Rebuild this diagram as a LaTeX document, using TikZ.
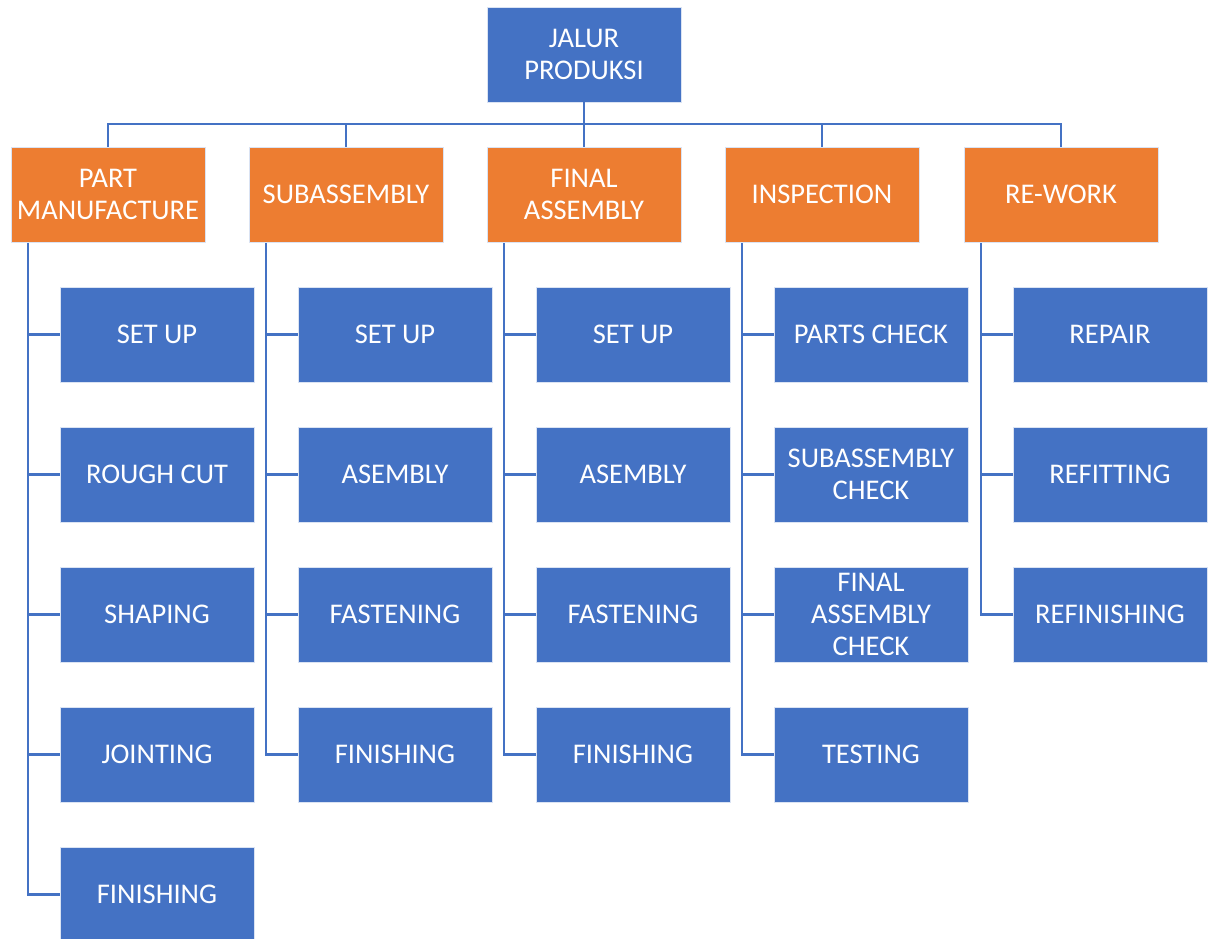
\documentclass[tikz,border=0pt]{standalone}
\usepackage{fontspec}
\setmainfont{Carlito}
\definecolor{boxblue}{HTML}{4472C4}
\definecolor{boxorange}{HTML}{ED7D31}
\tikzset{
  box/.style={draw=white!80!boxblue, line width=0.8pt, minimum width=194pt,
    minimum height=95pt, inner sep=0pt, text=white, align=center,
    font=\fontsize{28.5}{32}\selectfont},
  bluebox/.style={box, fill=boxblue},
  orangebox/.style={box, fill=boxorange},
  link/.style={draw=boxblue, line width=2.2pt}
}
\begin{document}
\begin{tikzpicture}[x=1pt,y=-1pt]
  \useasboundingbox (0,0) rectangle (1211,939);
  \clip (0,0) rectangle (1211,939);

  % root and main stages
  \node[bluebox] (root) at (584,54.5) {JALUR\\PRODUKSI};
  \foreach \n/\x/\t in {1/108/{PART\\MANUFACTURE},2/346/SUBASSEMBLY,
      3/584/{FINAL\\ASSEMBLY},4/822/INSPECTION,5/1061/RE-WORK} {
    \node[orangebox] (s\n) at (\x,194.5) {\t};
  }
  \coordinate (bus) at (584,124);
  \draw[link] (root.south) -- (bus);
  \draw[link] (s1.north) |- (bus) -| (s5.north);
  \foreach \n in {2,3,4} {
    \draw[link] (s\n.north) -- (s\n.north |- bus);
  }

  %%    % PART MANUFACTURE
  \foreach \i/\t in {1/SET UP,2/ROUGH CUT,3/SHAPING,4/JOINTING,5/FINISHING} {
    \node[bluebox] (pm\i) at (157,194.5+140*\i) {\t};
  }
  \coordinate (pmline) at (28,243);
  \draw[link] (pmline) |- (pm5.west);
  \foreach \i in {1,...,4} {
    \draw[link] (pm\i.west) -- (pm\i.west -| pmline);
  }

  %%    % SUBASSEMBLY
  \foreach \i/\t in {1/SET UP,2/ASEMBLY,3/FASTENING,4/FINISHING} {
    \node[bluebox] (sa\i) at (395,194.5+140*\i) {\t};
  }
  \coordinate (saline) at (266,243);
  \draw[link] (saline) |- (sa4.west);
  \foreach \i in {1,...,3} {
    \draw[link] (sa\i.west) -- (sa\i.west -| saline);
  }

  %%    % FINAL ASSEMBLY
  \foreach \i/\t in {1/SET UP,2/ASEMBLY,3/FASTENING,4/FINISHING} {
    \node[bluebox] (fa\i) at (633,194.5+140*\i) {\t};
  }
  \coordinate (faline) at (504,243);
  \draw[link] (faline) |- (fa4.west);
  \foreach \i in {1,...,3} {
    \draw[link] (fa\i.west) -- (fa\i.west -| faline);
  }

  %%    % INSPECTION
  \foreach \i/\t in {1/PARTS CHECK,2/{SUBASSEMBLY\\CHECK},
      3/{FINAL\\ASSEMBLY\\CHECK},4/TESTING} {
    \node[bluebox] (in\i) at (871,194.5+140*\i) {\t};
  }
  \coordinate (inline) at (742,243);
  \draw[link] (inline) |- (in4.west);
  \foreach \i in {1,...,3} {
    \draw[link] (in\i.west) -- (in\i.west -| inline);
  }

  %%    % RE-WORK
  \foreach \i/\t in {1/REPAIR,2/REFITTING,3/REFINISHING} {
    \node[bluebox] (rw\i) at (1110,194.5+140*\i) {\t};
  }
  \coordinate (rwline) at (981,243);
  \draw[link] (rwline) |- (rw3.west);
  \foreach \i in {1,...,2} {
    \draw[link] (rw\i.west) -- (rw\i.west -| rwline);
  }
\end{tikzpicture}
\end{document}
